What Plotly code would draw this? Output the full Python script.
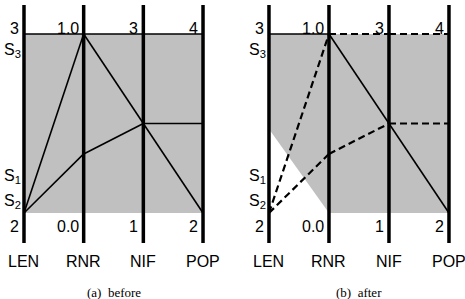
import plotly.graph_objects as go

# ---- data ----
axis_names = ["LEN", "RNR", "NIF", "POP"]
axis_lo = [2, 0.0, 1, 2]
axis_hi = [3, 1.0, 3, 4]
lo_labels = ["2", "0.0", "1", "2"]
hi_labels = ["3", "1.0", "3", "4"]

# polylines (values on each axis); style per segment
S3 = [3, 1.0, 3, 4]
S1 = [2, 1.0, 2, 3]
S2 = [2, 0.33, 2, 2]
S_after = [3, 1.0, 2, 2]

# before: segments (values, start axis, styles)
before_lines = [
    (S3, ["solid", "solid", "solid"]),
    (S1, ["solid", "solid", "solid"]),
    (S2, ["solid", "solid", "solid"]),
]
after_lines = [
    (S3, [None, "dash", "dash"]),
    (S1, ["dash", None, "dash"]),
    (S2, ["dash", "dash", None]),
    (S_after, ["solid", "solid", "solid"]),
]

# gray region (axis index, value)
before_region_axes = [0, 3, 3, 0]
before_region_vals = [3, 4, 2, 2]
after_region_axes = [0, 3, 3, 1, 0]
after_region_vals = [3, 4, 2, 0.0, 2.47]

s_labels = [("S<sub>3</sub>", 0.91), ("S<sub>1</sub>", 0.205), ("S<sub>2</sub>", 0.065)]
captions = ["(a)  before", "(b)  after"]


def norm(i, v):
    return (v - axis_lo[i]) / (axis_hi[i] - axis_lo[i])


fig = go.Figure()
GRAY = "#c0c0c0"
FONT = "Liberation Sans, Arial, sans-serif"

panels = [("x", "y", before_region_axes, before_region_vals, before_lines),
          ("x2", "y2", after_region_axes, after_region_vals, after_lines)]

annotations = []
for p, (xr, yr, rax, rval, lines) in enumerate(panels):
    # gray region
    fig.add_trace(go.Scatter(
        x=rax, y=[norm(i, v) for i, v in zip(rax, rval)], xaxis=xr, yaxis=yr,
        fill="toself", fillcolor=GRAY, mode="none", hoverinfo="skip", showlegend=False))
    # polylines
    for vals, styles in lines:
        for k, st in enumerate(styles):
            if st is None:
                continue
            dash = "solid" if st == "solid" else "7px,4px"
            w = 1.6 if st == "solid" else 2.2
            fig.add_trace(go.Scatter(
                x=[k, k + 1], y=[norm(k, vals[k]), norm(k + 1, vals[k + 1])],
                xaxis=xr, yaxis=yr, mode="lines",
                line=dict(color="black", width=w, dash=dash),
                hoverinfo="skip", showlegend=False))
    # vertical axes
    for i in range(4):
        fig.add_trace(go.Scatter(
            x=[i, i], y=[-0.168, 1.162], xaxis=xr, yaxis=yr, mode="lines",
            line=dict(color="black", width=3.5), hoverinfo="skip", showlegend=False))
        annotations.append(dict(x=i, y=1, xref=xr, yref=yr, text=hi_labels[i],
                                showarrow=False, xanchor="right", yanchor="middle",
                                xshift=-3, yshift=6, font=dict(size=16, color="black", family=FONT)))
        annotations.append(dict(x=i, y=0, xref=xr, yref=yr, text=lo_labels[i],
                                showarrow=False, xanchor="right", yanchor="middle",
                                xshift=-3, yshift=-13, font=dict(size=16, color="black", family=FONT)))
        annotations.append(dict(x=i, y=0, xref=xr, yref=yr, text=axis_names[i],
                                showarrow=False, xanchor="center", yanchor="middle",
                                yshift=-48, font=dict(size=16, color="black", family=FONT)))
    for txt, yv in s_labels:
        annotations.append(dict(x=0, y=yv, xref=xr, yref=yr, text=txt,
                                showarrow=False, xanchor="right", yanchor="middle",
                                xshift=-1, font=dict(size=16, color="black", family=FONT)))
    annotations.append(dict(x=1.5, y=0, xref=xr, yref=yr, text=captions[p],
                            showarrow=False, xanchor="center", yanchor="middle",
                            yshift=-79, font=dict(size=13, color="black",
                                                  family="Liberation Serif, Times New Roman, serif")))

ax_common = dict(visible=False, showgrid=False, zeroline=False, fixedrange=True)
fig.update_layout(
    width=465, height=299, margin=dict(l=0, r=0, t=0, b=0),
    paper_bgcolor="white", plot_bgcolor="white",
    xaxis=dict(domain=[0, 0.5], range=[-0.402, 3.494], **ax_common),
    xaxis2=dict(domain=[0.5, 1], range=[-0.608, 3.267], **ax_common),
    yaxis=dict(domain=[0, 1], range=[-0.4804, 1.19], **ax_common),
    yaxis2=dict(domain=[0, 1], range=[-0.4804, 1.19], anchor="x2", **ax_common),
    annotations=annotations,
    showlegend=False,
)
fig.write_html("out.html")
